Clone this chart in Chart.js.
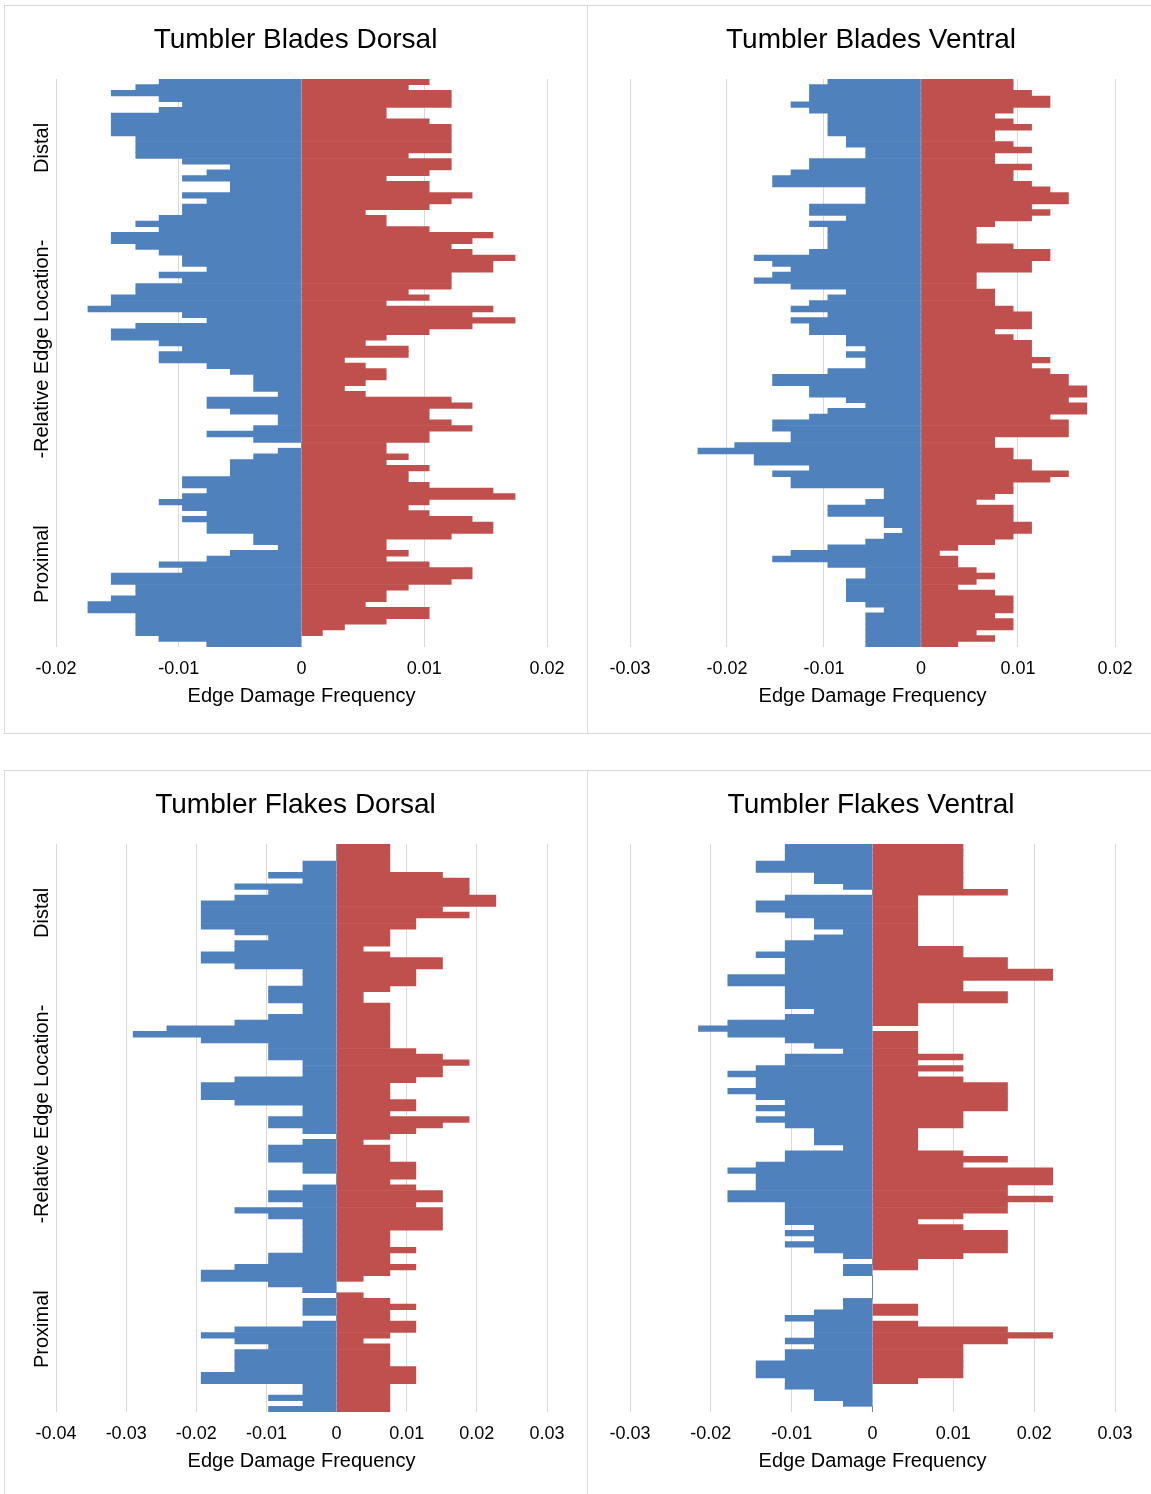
<!DOCTYPE html>
<html>
<head>
<meta charset="utf-8">
<title>Tumbler edge damage frequency</title>
<script src="https://cdn.jsdelivr.net/npm/chart.js@4.4.1/dist/chart.umd.min.js"></script>
<style>
  html, body { margin: 0; padding: 0; background: #fff; overflow: hidden; }
  body { width: 1151px; height: 1494px; position: relative; }
  .frame { position: absolute; border: 1px solid #d9d9d9; box-sizing: border-box; }
  canvas { position: absolute; }
</style>
</head>
<body>
<div class="frame" style="left:4px;top:5px;width:584px;height:729px"></div>
<div class="frame" style="left:587px;top:5px;width:600px;height:729px"></div>
<div class="frame" style="left:4px;top:770px;width:584px;height:760px"></div>
<div class="frame" style="left:587px;top:770px;width:600px;height:760px"></div>

<canvas id="bladesDorsal"  width="581" height="726" style="left:5px;top:6px"></canvas>
<canvas id="bladesVentral" width="566" height="726" style="left:588px;top:6px"></canvas>
<canvas id="flakesDorsal"  width="581" height="726" style="left:5px;top:771px"></canvas>
<canvas id="flakesVentral" width="566" height="726" style="left:588px;top:771px"></canvas>

<script>
// 100 position bins along the edge, distal end first
const bins = [1,2,3,4,5,6,7,8,9,10,11,12,13,14,15,16,17,18,19,20,
  21,22,23,24,25,26,27,28,29,30,31,32,33,34,35,36,37,38,39,40,
  41,42,43,44,45,46,47,48,49,50,51,52,53,54,55,56,57,58,59,60,
  61,62,63,64,65,66,67,68,69,70,71,72,73,74,75,76,77,78,79,80,
  81,82,83,84,85,86,87,88,89,90,91,92,93,94,95,96,97,98,99,100];

const xTicksBlades = [-0.03, -0.02, -0.01, 0, 0.01, 0.02];
const xTicksFlakes = [-0.04, -0.03, -0.02, -0.01, 0, 0.01, 0.02, 0.03];

// Tumbler blades, dorsal face (left edge negative, right edge positive)
const bladesDorsalLeft = [
  -0.0116,-0.0135,-0.0155,-0.0116,-0.0097,-0.0116,-0.0155,-0.0155,-0.0155,-0.0155,
  -0.0135,-0.0135,-0.0135,-0.0135,-0.0097,-0.0058,-0.0077,-0.0097,-0.0058,-0.0058,
  -0.0097,-0.0077,-0.0097,-0.0097,-0.0116,-0.0135,-0.0116,-0.0155,-0.0155,-0.0135,
  -0.0116,-0.0097,-0.0097,-0.0077,-0.0116,-0.0097,-0.0135,-0.0135,-0.0155,-0.0155,
  -0.0174,-0.0097,-0.0077,-0.0135,-0.0155,-0.0155,-0.0116,-0.0097,-0.0116,-0.0116,
  -0.0077,-0.0058,-0.0039,-0.0039,-0.0039,-0.0019,-0.0077,-0.0077,-0.0058,-0.0019,
  -0.0019,-0.0039,-0.0077,-0.0039,0,-0.0019,-0.0039,-0.0058,-0.0058,-0.0058,
  -0.0097,-0.0097,-0.0077,-0.0097,-0.0116,-0.0097,-0.0077,-0.0097,-0.0077,-0.0077,
  -0.0039,-0.0039,-0.0019,-0.0058,-0.0077,-0.0116,-0.0097,-0.0155,-0.0155,-0.0135,
  -0.0135,-0.0155,-0.0174,-0.0174,-0.0135,-0.0135,-0.0135,-0.0135,-0.0116,-0.0077];
const bladesDorsalRight = [
  0.0104,0.0087,0.0122,0.0122,0.0122,0.0069,0.0069,0.0104,0.0122,0.0122,
  0.0122,0.0122,0.0122,0.0087,0.0122,0.0122,0.0104,0.0069,0.0104,0.0104,
  0.0139,0.0122,0.0104,0.0052,0.0069,0.0069,0.0104,0.0156,0.0139,0.0122,
  0.0139,0.0174,0.0156,0.0156,0.0122,0.0122,0.0122,0.0087,0.0104,0.0069,
  0.0156,0.0139,0.0174,0.0139,0.0104,0.0069,0.0052,0.0087,0.0087,0.0035,
  0.0052,0.0069,0.0069,0.0052,0.0035,0.0052,0.0122,0.0139,0.0104,0.0104,
  0.0122,0.0139,0.0104,0.0104,0.0069,0.0069,0.0087,0.0069,0.0104,0.0087,
  0.0087,0.0104,0.0156,0.0174,0.0104,0.0087,0.0104,0.0139,0.0156,0.0156,
  0.0122,0.0069,0.0069,0.0087,0.0069,0.0104,0.0139,0.0139,0.0122,0.0087,
  0.0069,0.0069,0.0052,0.0104,0.0104,0.0069,0.0035,0.0017,0,0];

// Tumbler blades, ventral face
const bladesVentralLeft = [
  -0.0096,-0.0115,-0.0115,-0.0115,-0.0134,-0.0115,-0.0096,-0.0096,-0.0096,-0.0096,
  -0.0077,-0.0077,-0.0057,-0.0057,-0.0115,-0.0115,-0.0134,-0.0153,-0.0153,-0.0057,
  -0.0057,-0.0057,-0.0115,-0.0115,-0.0077,-0.0115,-0.0096,-0.0096,-0.0096,-0.0096,
  -0.0115,-0.0172,-0.0153,-0.0134,-0.0153,-0.0172,-0.0134,-0.0077,-0.0096,-0.0115,
  -0.0134,-0.0096,-0.0134,-0.0115,-0.0115,-0.0077,-0.0077,-0.0057,-0.0077,-0.0057,
  -0.0057,-0.0096,-0.0153,-0.0153,-0.0115,-0.0115,-0.0077,-0.0057,-0.0096,-0.0115,
  -0.0153,-0.0153,-0.0134,-0.0134,-0.0192,-0.0230,-0.0172,-0.0172,-0.0115,-0.0153,
  -0.0134,-0.0134,-0.0038,-0.0038,-0.0057,-0.0096,-0.0096,-0.0038,-0.0038,-0.0019,
  -0.0038,-0.0057,-0.0096,-0.0134,-0.0153,-0.0096,-0.0057,-0.0057,-0.0077,-0.0077,
  -0.0077,-0.0077,-0.0057,-0.0038,-0.0057,-0.0057,-0.0057,-0.0057,-0.0057,-0.0057];
const bladesVentralRight = [
  0.0095,0.0095,0.0114,0.0133,0.0133,0.0095,0.0076,0.0095,0.0114,0.0076,
  0.0076,0.0095,0.0114,0.0076,0.0076,0.0114,0.0095,0.0095,0.0114,0.0133,
  0.0152,0.0152,0.0114,0.0133,0.0114,0.0076,0.0057,0.0057,0.0057,0.0095,
  0.0133,0.0133,0.0114,0.0114,0.0057,0.0057,0.0057,0.0076,0.0076,0.0076,
  0.0095,0.0114,0.0114,0.0114,0.0076,0.0095,0.0114,0.0114,0.0114,0.0133,
  0.0114,0.0133,0.0152,0.0152,0.0171,0.0171,0.0152,0.0171,0.0171,0.0133,
  0.0152,0.0152,0.0152,0.0076,0.0076,0.0095,0.0095,0.0114,0.0114,0.0152,
  0.0133,0.0095,0.0095,0.0076,0.0057,0.0095,0.0095,0.0095,0.0114,0.0114,
  0.0095,0.0076,0.0038,0.0019,0.0038,0.0038,0.0057,0.0076,0.0057,0.0038,
  0.0076,0.0095,0.0095,0.0095,0.0076,0.0095,0.0095,0.0057,0.0076,0.0038];

// Tumbler flakes, dorsal face
const flakesDorsalLeft = [
  0,0,0,-0.0048,-0.0048,-0.0097,-0.0048,-0.0145,-0.0097,-0.0145,
  -0.0193,-0.0193,-0.0193,-0.0193,-0.0193,-0.0145,-0.0097,-0.0145,-0.0145,-0.0193,
  -0.0193,-0.0145,-0.0048,-0.0048,-0.0048,-0.0097,-0.0097,-0.0097,-0.0048,-0.0048,
  -0.0097,-0.0145,-0.0242,-0.0290,-0.0193,-0.0097,-0.0097,-0.0097,-0.0048,-0.0048,
  -0.0048,-0.0145,-0.0193,-0.0193,-0.0193,-0.0145,-0.0048,-0.0048,-0.0097,-0.0097,
  -0.0048,0,-0.0048,-0.0097,-0.0097,-0.0097,-0.0048,-0.0048,0,0,
  -0.0048,-0.0097,-0.0097,-0.0048,-0.0145,-0.0097,-0.0048,-0.0048,-0.0048,-0.0048,
  -0.0048,-0.0048,-0.0097,-0.0097,-0.0145,-0.0193,-0.0193,-0.0097,-0.0048,0,
  -0.0048,-0.0048,-0.0048,0,-0.0048,-0.0145,-0.0193,-0.0145,-0.0097,-0.0145,
  -0.0145,-0.0145,-0.0145,-0.0193,-0.0193,-0.0048,-0.0048,-0.0097,-0.0048,-0.0097];
const flakesDorsalRight = [
  0.0076,0.0076,0.0076,0.0076,0.0076,0.0151,0.0189,0.0189,0.0189,0.0227,
  0.0227,0.0151,0.0189,0.0113,0.0113,0.0076,0.0076,0.0076,0.0038,0.0076,
  0.0151,0.0151,0.0113,0.0113,0.0113,0.0076,0.0038,0.0038,0.0076,0.0076,
  0.0076,0.0076,0.0076,0.0076,0.0076,0.0076,0.0113,0.0151,0.0189,0.0151,
  0.0151,0.0113,0.0076,0.0076,0.0076,0.0113,0.0113,0.0076,0.0189,0.0151,
  0.0113,0.0076,0.0038,0.0076,0.0076,0.0076,0.0113,0.0113,0.0113,0.0076,
  0.0113,0.0151,0.0151,0.0113,0.0151,0.0151,0.0151,0.0151,0.0076,0.0076,
  0.0076,0.0113,0.0076,0.0076,0.0113,0.0076,0.0038,0,0,0.0038,
  0.0076,0.0113,0.0076,0.0076,0.0113,0.0113,0.0076,0.0038,0.0076,0.0076,
  0.0076,0.0076,0.0113,0.0113,0.0113,0.0076,0.0076,0.0076,0.0076,0.0076];

// Tumbler flakes, ventral face
const flakesVentralLeft = [
  -0.0108,-0.0108,-0.0108,-0.0144,-0.0144,-0.0072,-0.0072,-0.0036,0,-0.0108,
  -0.0144,-0.0144,-0.0108,-0.0072,-0.0072,-0.0036,-0.0072,-0.0108,-0.0108,-0.0144,
  -0.0108,-0.0108,-0.0108,-0.0179,-0.0179,-0.0108,-0.0108,-0.0108,-0.0108,-0.0072,
  -0.0108,-0.0179,-0.0215,-0.0179,-0.0108,-0.0072,-0.0036,-0.0108,-0.0108,-0.0144,
  -0.0179,-0.0144,-0.0144,-0.0179,-0.0144,-0.0108,-0.0144,-0.0108,-0.0144,-0.0108,
  -0.0072,-0.0072,-0.0072,-0.0036,-0.0108,-0.0108,-0.0144,-0.0179,-0.0144,-0.0144,
  -0.0144,-0.0179,-0.0179,-0.0108,-0.0108,-0.0108,-0.0108,-0.0072,-0.0108,-0.0072,
  -0.0108,-0.0072,-0.0036,0,-0.0036,-0.0036,0,0,0,0,
  -0.0036,-0.0036,-0.0072,-0.0108,-0.0072,-0.0072,-0.0072,-0.0108,-0.0072,-0.0108,
  -0.0108,-0.0144,-0.0144,-0.0144,-0.0108,-0.0108,-0.0072,-0.0072,-0.0036,0];
const flakesVentralRight = [
  0.0112,0.0112,0.0112,0.0112,0.0112,0.0112,0.0112,0.0112,0.0167,0.0056,
  0.0056,0.0056,0.0056,0.0056,0.0056,0.0056,0.0056,0.0056,0.0112,0.0112,
  0.0167,0.0167,0.0223,0.0223,0.0112,0.0112,0.0167,0.0167,0.0056,0.0056,
  0.0056,0.0056,0,0.0056,0.0056,0.0056,0.0056,0.0112,0.0056,0.0112,
  0.0056,0.0112,0.0167,0.0167,0.0167,0.0167,0.0167,0.0112,0.0112,0.0112,
  0.0056,0.0056,0.0056,0.0056,0.0112,0.0167,0.0112,0.0223,0.0223,0.0223,
  0.0167,0.0167,0.0223,0.0167,0.0167,0.0112,0.0056,0.0112,0.0167,0.0167,
  0.0167,0.0167,0.0112,0.0056,0.0056,0,0,0,0,0,
  0,0.0056,0.0056,0,0.0056,0.0167,0.0223,0.0167,0.0112,0.0112,
  0.0112,0.0112,0.0112,0.0112,0.0056,0,0,0,0,0];

const FONT = "'Liberation Sans', Arial, Helvetica, sans-serif";
const BLUE = '#4F81BD';
const RED = '#C0504D';
const GRID = '#D9D9D9';
const GAP = '            ';
const Y_TITLE = 'Proximal' + GAP + '-Relative Edge Location-' + GAP + 'Distal';

function drawPanel(id, title, leftVals, rightVals, ticks, showYTitle, yAxisWidth) {
  new Chart(document.getElementById(id), {
    type: 'bar',
    data: {
      labels: bins,
      datasets: [
        { label: 'Left edge', data: leftVals, backgroundColor: BLUE, borderWidth: 0,
          barPercentage: 1, categoryPercentage: 1 },
        { label: 'Right edge', data: rightVals, backgroundColor: RED, borderWidth: 0,
          barPercentage: 1, categoryPercentage: 1 }
      ]
    },
    options: {
      indexAxis: 'y',
      responsive: false,
      animation: false,
      events: [],
      layout: { padding: { top: 0, left: 0, right: 0, bottom: 15 } },
      plugins: {
        legend: { display: false },
        tooltip: { enabled: false },
        title: {
          display: true,
          text: title,
          color: '#000',
          font: { family: FONT, size: 28, weight: 'normal' },
          padding: { top: 17.2, bottom: 22.2 }
        }
      },
      scales: {
        x: {
          type: 'linear',
          stacked: true,
          min: ticks[0],
          max: ticks[ticks.length - 1],
          afterBuildTicks: (scale) => { scale.ticks = ticks.map(v => ({ value: v })); },
          ticks: {
            color: '#000',
            font: { family: FONT, size: 18 },
            padding: 11,
            maxRotation: 0,
            autoSkip: false,
            callback: (v) => String(Number(Number(v).toFixed(2)))
          },
          grid: { color: GRID, lineWidth: 1, drawTicks: false },
          border: { display: false },
          title: {
            display: true,
            text: 'Edge Damage Frequency',
            color: '#000',
            font: { family: FONT, size: 20 },
            padding: { top: 0, bottom: 9 }
          },
          afterFit: (scale) => { scale.height = 70; }
        },
        y: {
          stacked: true,
          ticks: { display: false },
          grid: { display: false },
          border: { display: false },
          title: {
            display: showYTitle,
            text: Y_TITLE,
            color: '#000',
            font: { family: FONT, size: 20 },
            padding: { top: 25, bottom: 0 }
          },
          afterFit: (scale) => { scale.width = yAxisWidth; }
        },
        yRight: {
          type: 'category',
          position: 'right',
          ticks: { display: false },
          grid: { display: false },
          border: { display: false },
          afterFit: (scale) => { scale.width = 39; }
        }
      }
    }
  });
}

drawPanel('bladesDorsal',  'Tumbler Blades Dorsal',  bladesDorsalLeft,  bladesDorsalRight,
          xTicksBlades.slice(1), true, 51);
drawPanel('bladesVentral', 'Tumbler Blades Ventral', bladesVentralLeft, bladesVentralRight,
          xTicksBlades, false, 42);
drawPanel('flakesDorsal',  'Tumbler Flakes Dorsal',  flakesDorsalLeft,  flakesDorsalRight,
          xTicksFlakes, true, 51);
drawPanel('flakesVentral', 'Tumbler Flakes Ventral', flakesVentralLeft, flakesVentralRight,
          xTicksFlakes.slice(1), false, 42);
</script>
</body>
</html>
